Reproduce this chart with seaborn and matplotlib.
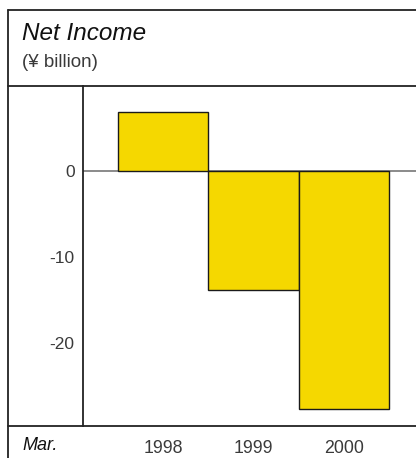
import matplotlib
matplotlib.use("Agg")
import matplotlib.pyplot as plt
from matplotlib.lines import Line2D
import seaborn as sns
import pandas as pd

years = ["1998", "1999", "2000"]
net_income = [6.9, -13.8, -27.7]
y_ticks = [0, -10, -20]

sns.set_theme(style="white")
plt.rcParams["font.family"] = ["Liberation Sans", "DejaVu Sans"]

W, H = 416, 458
fig = plt.figure(figsize=(W / 100, H / 100), dpi=100)
fig.patch.set_facecolor("white")

def fx(px):
    return px / W

def fy(py):
    return 1 - py / H

text_col = "#3a3a3a"
line_col = "#222222"

ax = fig.add_axes([fx(83), fy(426), fx(416) - fx(83), fy(86) - fy(426)])
df = pd.DataFrame({"year": years, "value": net_income})
sns.barplot(data=df, x="year", y="value", order=years, color="#F5D800",
            saturation=1, width=1.0, edgecolor="#1a1a1a", linewidth=1.0, ax=ax)

ax.set_xlim(-0.887, 2.8)
ax.set_ylim(-29.65, 9.88)
ax.axhline(0, color="#777777", lw=1.2, zorder=0)
ax.set_yticks(y_ticks)
ax.set_yticklabels([str(v) for v in y_ticks], color=text_col, fontsize=12.5)
ax.set_xticks(range(len(years)))
ax.set_xticklabels(years, color=text_col, fontsize=12.8)
ax.tick_params(axis="y", length=0, pad=6)
ax.tick_params(axis="x", length=0, pad=10)
ax.set_xlabel("")
ax.set_ylabel("")
for s in ["top", "right", "bottom"]:
    ax.spines[s].set_visible(False)
ax.spines["left"].set_color(line_col)
ax.spines["left"].set_linewidth(1.3)
ax.patch.set_alpha(0)

# frame and separators
lines = [
    ((8, 416), (10, 10)),
    ((8, 8), (10, 458)),
    ((8, 416), (86, 86)),
    ((8, 416), (426, 426)),
]
for xs, ys in lines:
    fig.add_artist(Line2D([fx(x) for x in xs], [fy(y) for y in ys],
                          color=line_col, lw=1.3))

fig.text(fx(22), fy(39.5), "Net Income", fontsize=17.5, style="italic",
         color="#111111", ha="left", va="baseline")
fig.text(fx(22), fy(67), "(¥ billion)", fontsize=13.5, color=text_col,
         ha="left", va="baseline")
fig.text(fx(22), fy(450), "Mar.", fontsize=13, style="italic", color="#111111",
         ha="left", va="baseline")

fig.savefig("out.png", dpi=100)
